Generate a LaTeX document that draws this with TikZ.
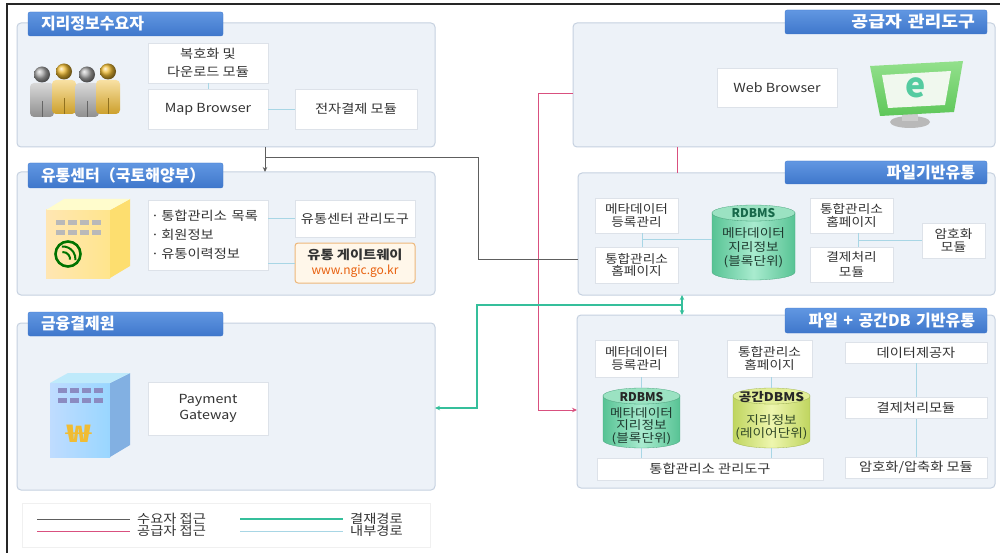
\documentclass[tikz,border=0pt]{standalone}
\usepackage{fontspec}
\usepackage{graphicx}
\setmainfont{Noto Sans CJK KR}
\usetikzlibrary{arrows.meta,calc}

\definecolor{panelfill}{HTML}{EDF2F8}
\definecolor{panelline}{HTML}{C6D1E0}
\definecolor{tabtop}{HTML}{6197E2}
\definecolor{tabbot}{HTML}{3F77CB}
\definecolor{boxline}{HTML}{DDE2E9}
\definecolor{boxtext}{HTML}{333333}
\definecolor{linegray}{HTML}{5E5E5E}
\definecolor{linepink}{HTML}{D9507F}
\definecolor{lineteal}{HTML}{35BF9B}
\definecolor{lineinner}{HTML}{A8D6E5}
\definecolor{urlorange}{HTML}{E8600E}
\definecolor{gwline}{HTML}{EDB77A}
\definecolor{gwfill}{HTML}{FFF7EA}
\definecolor{cylgreenE}{HTML}{57C394}
\definecolor{cylgreenM}{HTML}{A9EBCF}
\definecolor{cylgreenT}{HTML}{9BE2C2}
\definecolor{cylyelE}{HTML}{BFD55F}
\definecolor{cylyelM}{HTML}{EEF6AE}
\definecolor{cylyelT}{HTML}{E2EE98}
\definecolor{cyltext}{HTML}{1F3B30}
\definecolor{cyllabel}{HTML}{17694A}
\definecolor{goldfig}{HTML}{F0BC34}
\definecolor{grayfig}{HTML}{A9A9A9}
\definecolor{monitorA}{HTML}{93E08C}
\definecolor{monitorB}{HTML}{5EC75A}
\definecolor{screen}{HTML}{F0F8EE}
\definecolor{eletter}{HTML}{55CBA0}

% the lettering is set slightly wide
\newcommand\ws[1]{\scalebox{1.14}[1]{#1}}

% database cylinder: name, centre x, top y, bottom y, half width, edge colour, middle colour, lid colour
\newcommand\drawcyl[8]{%
  \node[inner sep=0, outer sep=0, minimum width={2*#5}, minimum height={#4-#3}] (#1) at (#2,{(#3+#4)/2}) {};
  \path[left color=#6, right color=#6, middle color=#7, draw=#6!85!black, line width=0.3pt]
    (#2-#5,#3+8) -- (#2-#5,#4-8) arc[start angle=180, end angle=0, x radius=#5, y radius=8]
    -- (#2+#5,#3+8) arc[start angle=0, end angle=180, x radius=#5, y radius=8] -- cycle;
  \path[fill=#8, draw=#6!85!black, line width=0.3pt] (#2,#3+8) ellipse[x radius=#5, y radius=8];
}

% one standing person: centre x, top y, colour
\newcommand\standingperson[3]{%
  \shade[top color=#3!45, bottom color=#3!85!black, rounded corners=4]
    (#1-12,#2+17) -- (#1+12,#2+17) -- (#1+12,#2+51) -- (#1-12,#2+51) -- cycle;
  \draw[#3!60!black, line width=0.6] (#1,#2+35) -- (#1,#2+51);
  \shade[ball color=#3] (#1,#2+8.5) circle[radius=8];
}

\begin{document}
\begin{tikzpicture}[x=1pt, y=-1pt,
  panel/.style={draw=panelline, fill=panelfill, line width=1pt, rounded corners=4pt, inner sep=0, outer sep=0},
  tabbox/.style={top color=tabtop, bottom color=tabbot, draw=tabbot, line width=0.3pt, rounded corners=2pt,
     text=white, font=\bfseries\fontsize{16}{17}\selectfont, inner ysep=0, inner xsep=13, outer sep=0},
  box/.style={fill=white, draw=boxline, line width=0.5pt, align=center, text=boxtext, inner sep=0, outer sep=0,
     font=\fontsize{12.5}{15}\selectfont},
  dense/.style={font=\fontsize{12}{12.5}\selectfont},
  wh/.style 2 args={minimum width=#1, minimum height=#2},
  grayline/.style={draw=linegray, line width=0.9pt},
  pinkline/.style={draw=linepink, line width=0.9pt},
  tealline/.style={draw=lineteal, line width=1.1pt},
  innerline/.style={draw=lineinner, line width=0.8pt},
  tip/.style={-{Stealth[length=5pt, width=4.5pt]}},
  legendtext/.style={anchor=west, text=boxtext, font=\fontsize{12.5}{13}\selectfont, inner sep=0}
]
\useasboundingbox (0,0) rectangle (1000,553);
\fill[white] (0,0) rectangle (1000,553);

% outer frame lines
\draw[black!85, line width=1.5pt] (7,553) -- (7,4) -- (1000,4);

% ---------- panels ----------
\node[panel, wh={418}{124}] (p1) at (226,85) {};
\node[panel, wh={418}{123}] (p2) at (226,233.5) {};
\node[panel, wh={418}{167}] (p3) at (226,406.5) {};
\node[panel, wh={422}{124}] (p4) at (784,85) {};
\node[panel, wh={417}{122}] (p5) at (786.5,234) {};
\node[panel, wh={418}{173}] (p6) at (786,401.5) {};

% ---------- panel titles ----------
\node[tabbox, minimum height=24, text width=169, align=left] (t1) at (125.5,24) {지리정보수요자};
\node[tabbox, minimum height=25, text width=169, align=left] (t2) at (125.5,175.5) {유통센터（국토해양부）};
\node[tabbox, minimum height=24, text width=169, align=left] (t3) at (125.5,324) {금융결제원};
\node[tabbox, minimum height=24, text width=178, align=right, inner xsep=12] (t4) at (886,22) {\ws{공급자 관리도구}};
\node[tabbox, minimum height=23, text width=178, align=right, inner xsep=12] (t5) at (886,172.5) {파일기반유통};
\node[tabbox, minimum height=25, text width=178, align=right, inner xsep=12] (t6) at (886,320.5) {파일 + 공간DB 기반유통};

% ---------- connectors between panels ----------
% supplier access (pink)
\coordinate (pA) at (538,93);
\coordinate (pB) at (538,410);
\coordinate (pC) at (677,0);
\draw[pinkline] (p4.west |- pA) -- (pA) -- (pB);
\draw[pinkline, tip] (pB) -- (p6.west |- pB);
\draw[pinkline] (p4.south -| pC) -- (p5.north -| pC);

% consumer access (gray)
\coordinate (gA) at (478,259);
\coordinate (gB) at (478,157);
\coordinate (gC) at (265,157);
\draw[grayline] (p5.west |- gA) -- (gA) -- (gB) -- (gC);
\draw[grayline] (p1.south -| gC) -- (gC);
\draw[grayline, tip] (gC) -- (p2.north -| gC);

% payment route (teal)
\coordinate (tA) at (682,305);
\coordinate (tB) at (477,305);
\coordinate (tC) at (477,408);
\draw[tealline, {Stealth[length=5pt, width=4.5pt]}-{Stealth[length=5pt, width=4.5pt]}] (p5.south -| tA) -- (p6.north -| tA);
\draw[tealline, tip] (tA) -- (tB) -- (tC) -- (p3.east |- tC);

% ---------- panel 1: consumer ----------
\standingperson{42}{66}{grayfig}
\standingperson{64}{63}{goldfig}
\standingperson{87}{66}{grayfig}
\standingperson{108}{63}{goldfig}

\node[box, wh={120}{40}, font=\fontsize{12.5}{18}\selectfont] (b1) at (208,63) {\ws{복호화 및}\\\ws{다운로드 모듈}};
\node[box, wh={120}{40}] (b2) at (208,109) {\ws{Map Browser}};
\node[box, wh={122}{40}] (b3) at (356,109) {\ws{전자결제 모듈}};
\draw[innerline] (b1.south) -- (b2.north);
\draw[innerline] (b2.east) -- (b3.west);

% ---------- panel 2: distribution centre ----------
% yellow building
\shade[left color=yellow!35!orange!30!white, right color=yellow!55!orange!45!white] (46,210) rectangle (110,278);
\fill[yellow!60!orange!55!white] (110,210) -- (130,199) -- (130,266) -- (110,278) -- cycle;
\fill[yellow!20!white] (46,210) -- (64,199) -- (130,199) -- (110,210) -- cycle;
\foreach \i in {0,...,3} {
  \fill[gray!55] (56+\i*12,220) rectangle ++(9,5);
  \fill[gray!55] (56+\i*12,230) rectangle ++(9,5);
}
\draw[green!45!black, line width=2.6pt] (68,254) circle[radius=12.5];
\draw[green!45!black, line width=2pt] (63,259) ++(-95:7) arc[start angle=-95, end angle=5, radius=7];
\draw[green!45!black, line width=2pt] (63,259) ++(-95:12.5) arc[start angle=-95, end angle=5, radius=12.5];

\node[box, wh={120}{70}, align=left, text width=114, font=\fontsize{12.5}{19}\selectfont] (lst) at (208,235)
  {\ws{·\,통합관리소 목록}\\\ws{·\,회원정보}\\\ws{·\,유통이력정보}};
\node[box, wh={120}{37}] (b4) at (355,218.5) {\ws{유통센터 관리도구}};
\node[box, wh={120}{40}, draw=gwline, fill=gwfill, line width=1pt, rounded corners=3pt, font=\fontsize{12.5}{15}\selectfont] (gw) at (355,263)
  {\ws{\textbf{유통 게이트웨이}}\\{\color{urlorange}\fontsize{12}{13}\selectfont www.ngic.go.kr}};
\draw[innerline] (lst.east |- b4) -- (b4.west);
\draw[innerline] (lst.east |- gw) -- (gw.west);

% ---------- panel 3: payment institute ----------
\shade[left color=cyan!45!blue!25!white, right color=cyan!60!blue!40!white] (50,383) rectangle (110,457);
\fill[cyan!60!blue!50!white] (110,383) -- (130,373) -- (130,445) -- (110,457) -- cycle;
\fill[cyan!25!white] (50,383) -- (68,373) -- (130,373) -- (110,383) -- cycle;
\foreach \i in {0,...,3} {
  \fill[blue!30!gray!70] (58+\i*12,388) rectangle ++(9,5);
  \fill[blue!30!gray!70] (58+\i*12,398) rectangle ++(9,5);
}
\node[text=goldfig, font=\bfseries\fontsize{24}{24}\selectfont, inner sep=0, xscale=1.7, transform shape] (won) at (79,434) {₩};

\node[box, wh={120}{53}, font=\fontsize{12.5}{16}\selectfont] (pg) at (208,408.5) {\ws{Payment}\\\ws{Gateway}};

% ---------- panel 4: supplier tool ----------
\node[box, wh={120}{39}] (wb) at (777,87.5) {\ws{Web Browser}};
\fill[gray!55] (910,122) ellipse[x radius=20, y radius=6];
\fill[gray!40] (902,112) rectangle (918,121);
\shade[top color=monitorA, bottom color=monitorB] (870,66) -- (963,61) -- (954,112) -- (880,116) -- cycle;
\fill[screen] (882,75) -- (951,71) -- (945,105) -- (888,108) -- cycle;
\node[text=eletter, font=\bfseries\fontsize{34}{34}\selectfont, inner sep=0] (ie) at (916,88) {e};

% ---------- panel 5: file based distribution ----------
\drawcyl{c1}{753.5}{205}{280}{41.5}{cylgreenE}{cylgreenM}{cylgreenT}
\node[text=cyllabel, font=\bfseries\fontsize{12}{13}\selectfont, inner sep=0] at (753.5,213) {RDBMS};
\node[text=cyltext, align=center, font=\fontsize{12}{14}\selectfont, inner sep=0] at (753.5,248) {\ws{메타데이터}\\\ws{지리정보}\\\ws{(블록단위)}};

\node[box, wh={83}{35}, dense] (m1) at (636.5,215.5) {\ws{메타데이터}\\\ws{등록관리}};
\node[box, wh={83}{36}, dense] (h1) at (636.5,265) {\ws{통합관리소}\\\ws{홈페이지}};
\node[box, wh={83}{35}, dense] (h2) at (851.5,215.5) {\ws{통합관리소}\\\ws{홈페이지}};
\node[box, wh={83}{35}, font=\fontsize{12}{15}\selectfont] (pm1) at (851.5,264.5) {\ws{결제처리}\\\ws{모듈}};
\node[box, wh={63}{35}, dense] (e1) at (953.5,240.5) {\ws{암호화}\\\ws{모듈}};
\coordinate (i1) at (642,239);
\coordinate (i2) at (858,240);
\draw[innerline] (m1.south -| i1) -- (h1.north -| i1);
\draw[innerline] (i1) -- (c1.west |- i1);
\draw[innerline] (h2.south -| i2) -- (pm1.north -| i2);
\draw[innerline] (i2) -- (e1.west |- i2);

% ---------- panel 6: file + spatial DB distribution ----------
\node[box, wh={226}{22}] (tt) at (710,469) {\ws{통합관리소 관리도구}};
\node[box, wh={83}{37}, dense] (m2) at (636.5,358.5) {\ws{메타데이터}\\\ws{등록관리}};
\node[box, wh={85}{37}, dense] (h3) at (769.5,358.5) {\ws{통합관리소}\\\ws{홈페이지}};
\node[box, wh={142}{21}] (dp) at (916,352.5) {\ws{데이터제공자}};
\node[box, wh={142}{21}] (e2) at (916,467.5) {\ws{암호화/압축화 모듈}};
\draw[innerline] (dp.south) -- (e2.north);
\node[box, wh={142}{21}] (pm2) at (916,407.5) {\ws{결제처리모듈}};

\drawcyl{c2}{641.5}{388}{448}{38.5}{cylgreenE}{cylgreenM}{cylgreenT}
\drawcyl{c3}{771.5}{388}{448}{38.5}{cylyelE}{cylyelM}{cylyelT}
\node[text=black!85, font=\bfseries\fontsize{12}{13}\selectfont, inner sep=0] at (641.5,397) {RDBMS};
\node[text=cyltext, align=center, font=\fontsize{12}{12.5}\selectfont, inner sep=0] at (641.5,426) {\ws{메타데이터}\\\ws{지리정보}\\\ws{(블록단위)}};
\node[text=black!85, font=\bfseries\fontsize{12}{13}\selectfont, inner sep=0] at (771.5,397) {\ws{공간DBMS}};
\node[text=cyltext!80!olive, align=center, font=\fontsize{12}{13.5}\selectfont, inner sep=0] at (771.5,427) {\ws{지리정보}\\\ws{(레이어단위)}};
\draw[innerline] (m2.south -| c2) -- (c2.north);
\draw[innerline] (c2.south) -- (tt.north -| c2);
\draw[innerline] (h3.south -| c3) -- (c3.north);
\draw[innerline] (c3.south) -- (tt.north -| c3);

% ---------- legend ----------
\node[draw=black!6, fill=white, line width=0.6pt, inner sep=0, outer sep=0, wh={408}{44}] (lg) at (226,525) {};
\coordinate (l1) at (37,519);
\coordinate (l2) at (37,531);
\coordinate (l3) at (240,519);
\coordinate (l4) at (240,531);
\node[legendtext] (lt1) at (137,519) {\ws{수요자 접근}};
\node[legendtext] (lt2) at (137,531) {\ws{공급자 접근}};
\node[legendtext] (lt3) at (350,519) {\ws{결재경로}};
\node[legendtext] (lt4) at (350,531) {\ws{내부경로}};
\draw[grayline] (l1) -- (130,519);
\draw[pinkline] (l2) -- (130,531);
\draw[tealline] (l3) -- (343,519);
\draw[innerline, line width=1pt] (l4) -- (343,531);
\end{tikzpicture}
\end{document}
